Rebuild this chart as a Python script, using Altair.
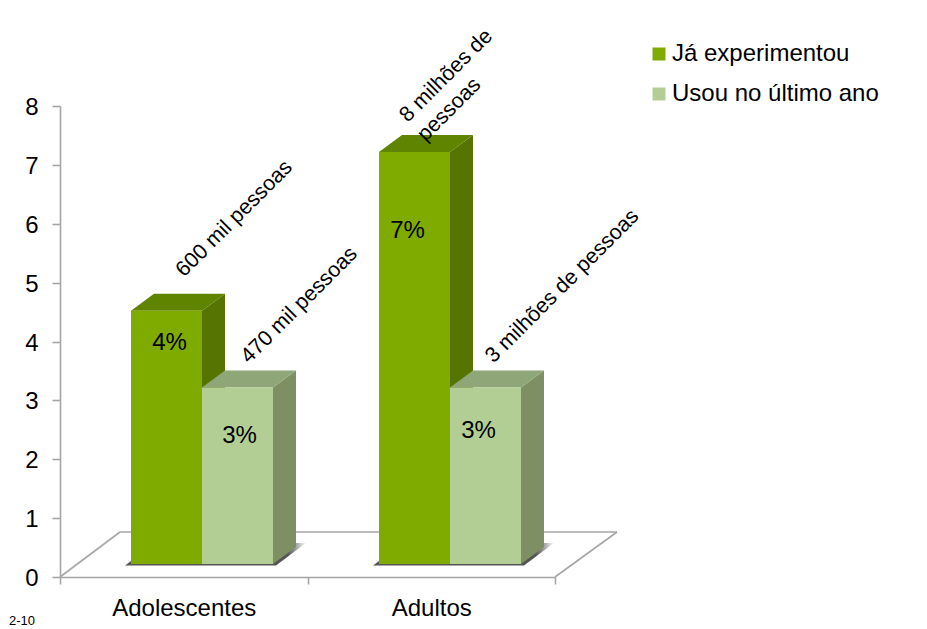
import math
import altair as alt
import pandas as pd

categories = ["Adolescentes", "Adultos"]
series = ["Já experimentou", "Usou no último ano"]
values_first = [4.3, 7.0]
values_last = [3.0, 3.0]
pct_first = ["4%", "7%"]
pct_last = ["3%", "3%"]
people_first = ["600 mil pessoas", "8 milhões de"]
people_last = ["470 mil pessoas", "3 milhões de pessoas"]
extra_line = "pessoas"
footer = "2-10"

FONT = "Liberation Sans"
FS = 24
GREY = "#A6A6A6"
PXX = 247.5
PXY = 58.875
W, H = 495, 471
XS = alt.Scale(domain=[0, 2], nice=False, zero=False)
YS = alt.Scale(domain=[0, 8], nice=False, zero=False)
FRONT = ["#7FAA00", "#B3CE94"]
TOP = ["#5F8400", "#8FA678"]
SIDE = ["#557500", "#7D8F63"]

BASE = 13 / PXY
BAR_W = 71 / PXX
DEPTH_X = 23 / PXX
DEPTH_Y = 17 / PXY
LEFT = 71 / PXX
GROUP = 248 / PXX
FLOOR_XL = 60 / PXX
FLOOR_XR = 62 / PXX
FLOOR_Y = 45 / PXY

Y_AXIS = alt.Axis(values=list(range(9)), format="d", labelFont=FONT, labelFontSize=FS,
                  labelColor="black", domainColor=GREY, domainWidth=1.6, tickColor=GREY,
                  tickWidth=1.6, tickSize=8, labelPadding=14, labelOffset=1.5, grid=False, title=None)


def X(f):
    return alt.X(f, type="quantitative", scale=XS, axis=None)


def Y(f):
    return alt.Y(f, type="quantitative", scale=YS, axis=Y_AXIS, stack=None)


layers = []

# invisible carrier of the category axis
axis_df = pd.DataFrame({"cat": categories, "zero": [0, 0]})
layers.append(
    alt.Chart(axis_df).mark_point(opacity=0).encode(
        x=alt.X("cat:N", title=None, sort=categories,
                scale=alt.Scale(domain=categories, paddingInner=0, paddingOuter=0),
                axis=alt.Axis(tickBand="extent", labelAngle=0, labelFont=FONT, labelFontSize=FS,
                              labelColor="black", domainColor=GREY, domainWidth=1.6, tickColor=GREY,
                              tickWidth=1.6, tickSize=7, labelPadding=12, grid=False)),
        y=Y("zero"),
    )
)

# floor of the 3D frame
floor_df = pd.DataFrame({
    "x": [0, FLOOR_XL, FLOOR_XL, 2 + FLOOR_XR, 2 + FLOOR_XR, 2],
    "y": [0, FLOOR_Y, FLOOR_Y, FLOOR_Y, FLOOR_Y, 0],
    "g": ["a", "a", "b", "b", "c", "c"],
})
layers.append(alt.Chart(floor_df).mark_line(color=GREY, strokeWidth=1.6).encode(
    x=X("x"), y=Y("y"), detail="g:N"))


def area(points, **kw):
    df = pd.DataFrame(points, columns=["x", "y", "y2"])
    return alt.Chart(df).mark_area(**kw).encode(x=X("x"), y=Y("y"), y2=alt.Y2("y2"))


# floor shadows
shadow = alt.Gradient(gradient="linear", x1=0, x2=1, y1=0, y2=0,
                      stops=[alt.GradientStop(color="#555555", offset=0),
                             alt.GradientStop(color="#555555", offset=0.90),
                             alt.GradientStop(color="#ffffff", offset=1)])
for i in range(2):
    x0 = i * GROUP + LEFT - 6 / PXX
    x1 = i * GROUP + LEFT + 2 * BAR_W + DEPTH_X + 10 / PXX
    d = 30 / PXX
    b0, b1 = BASE - 1.5 / PXY, BASE + 21 / PXY
    layers.append(area([(x0, b0, b0), (x0 + d, b1, b0), (x1 - d, b1, b0), (x1, b1, b1)], color=shadow))


def bar(i, j, v):
    x0 = i * GROUP + LEFT + j * BAR_W
    x1 = x0 + BAR_W
    top = BASE + v
    out = []
    out.append(area([(x1, top, BASE), (x1 + DEPTH_X, top + DEPTH_Y, BASE + DEPTH_Y)], color=SIDE[j]))
    out.append(area([(x0, top, top), (x0 + DEPTH_X, top + DEPTH_Y, top),
                     (x1, top + DEPTH_Y, top), (x1 + DEPTH_X, top + DEPTH_Y, top + DEPTH_Y)], color=TOP[j]))
    df = pd.DataFrame({"x": [x0], "x1": [x1], "y": [top], "y0": [BASE], "s": [series[j]]})
    out.append(alt.Chart(df).mark_bar().encode(
        x=X("x"), x2=alt.X2("x1"), y=Y("y"), y2=alt.Y2("y0"),
        color=alt.Color("s:N", scale=alt.Scale(domain=series, range=FRONT),
                        legend=alt.Legend(title=None, orient="none", legendX=587, legendY=-64,
                                          symbolType="square", symbolSize=169, symbolOpacity=1,
                                          labelFont=FONT, labelFontSize=FS, labelColor="black",
                                          labelOffset=1, rowPadding=16, labelLimit=300))))
    return out


all_vals = [values_first, values_last]
for i in range(2):
    for j in range(2):
        layers += bar(i, j, all_vals[j][i])


def label(i, j, v, text, sx, sy, angle=0):
    # sx, sy: screen offset from the bar's front-top centre
    df = pd.DataFrame({"x": [i * GROUP + LEFT + (j + 0.5) * BAR_W], "y": [BASE + v], "t": [text]})
    if angle:
        r = math.sqrt(0.5)
        dx, dy = r * (sx - sy), r * (sx + sy)
    else:
        dx, dy = sx, sy
    kw = {"angle": 315} if angle else {}
    return alt.Chart(df).mark_text(font=FONT, fontSize=FS if not angle else 21.4, color="black",
                                   align="center", baseline="middle", dx=dx, dy=dy, **kw).encode(
        x=X("x"), y=Y("y"), text="t:N")


layers += [
    label(0, 0, values_first[0], pct_first[0], 3, 32),
    label(0, 1, values_last[0], pct_last[0], 2, 49),
    label(1, 0, values_first[1], pct_first[1], -7, 79),
    label(1, 1, values_last[1], pct_last[1], -7, 44),
    label(0, 0, values_first[0], people_first[0], 68, -92, 1),
    label(0, 1, values_last[0], people_last[0], 62, -82, 1),
    label(1, 0, values_first[1], people_first[1], 32, -76, 1),
    label(1, 0, values_first[1], extra_line, 35, -42, 1),
    label(1, 1, values_last[1], people_last[1], 77, -101, 1),
]

layers.append(alt.Chart(pd.DataFrame({"t": [footer]})).mark_text(
    font=FONT, fontSize=13, color="black", align="left", baseline="middle").encode(
    x=alt.value(-51), y=alt.value(515), text="t:N"))

chart = alt.layer(*layers).resolve_scale(x="independent").properties(
    width=W, height=H,
    autosize=alt.AutoSizeParams(type="none"),
    padding={"left": 52, "top": 98, "right": 364, "bottom": 52},
    background="white",
).configure_view(stroke=None)

chart.save("out.html", embed_options={"renderer": "svg", "actions": False})
